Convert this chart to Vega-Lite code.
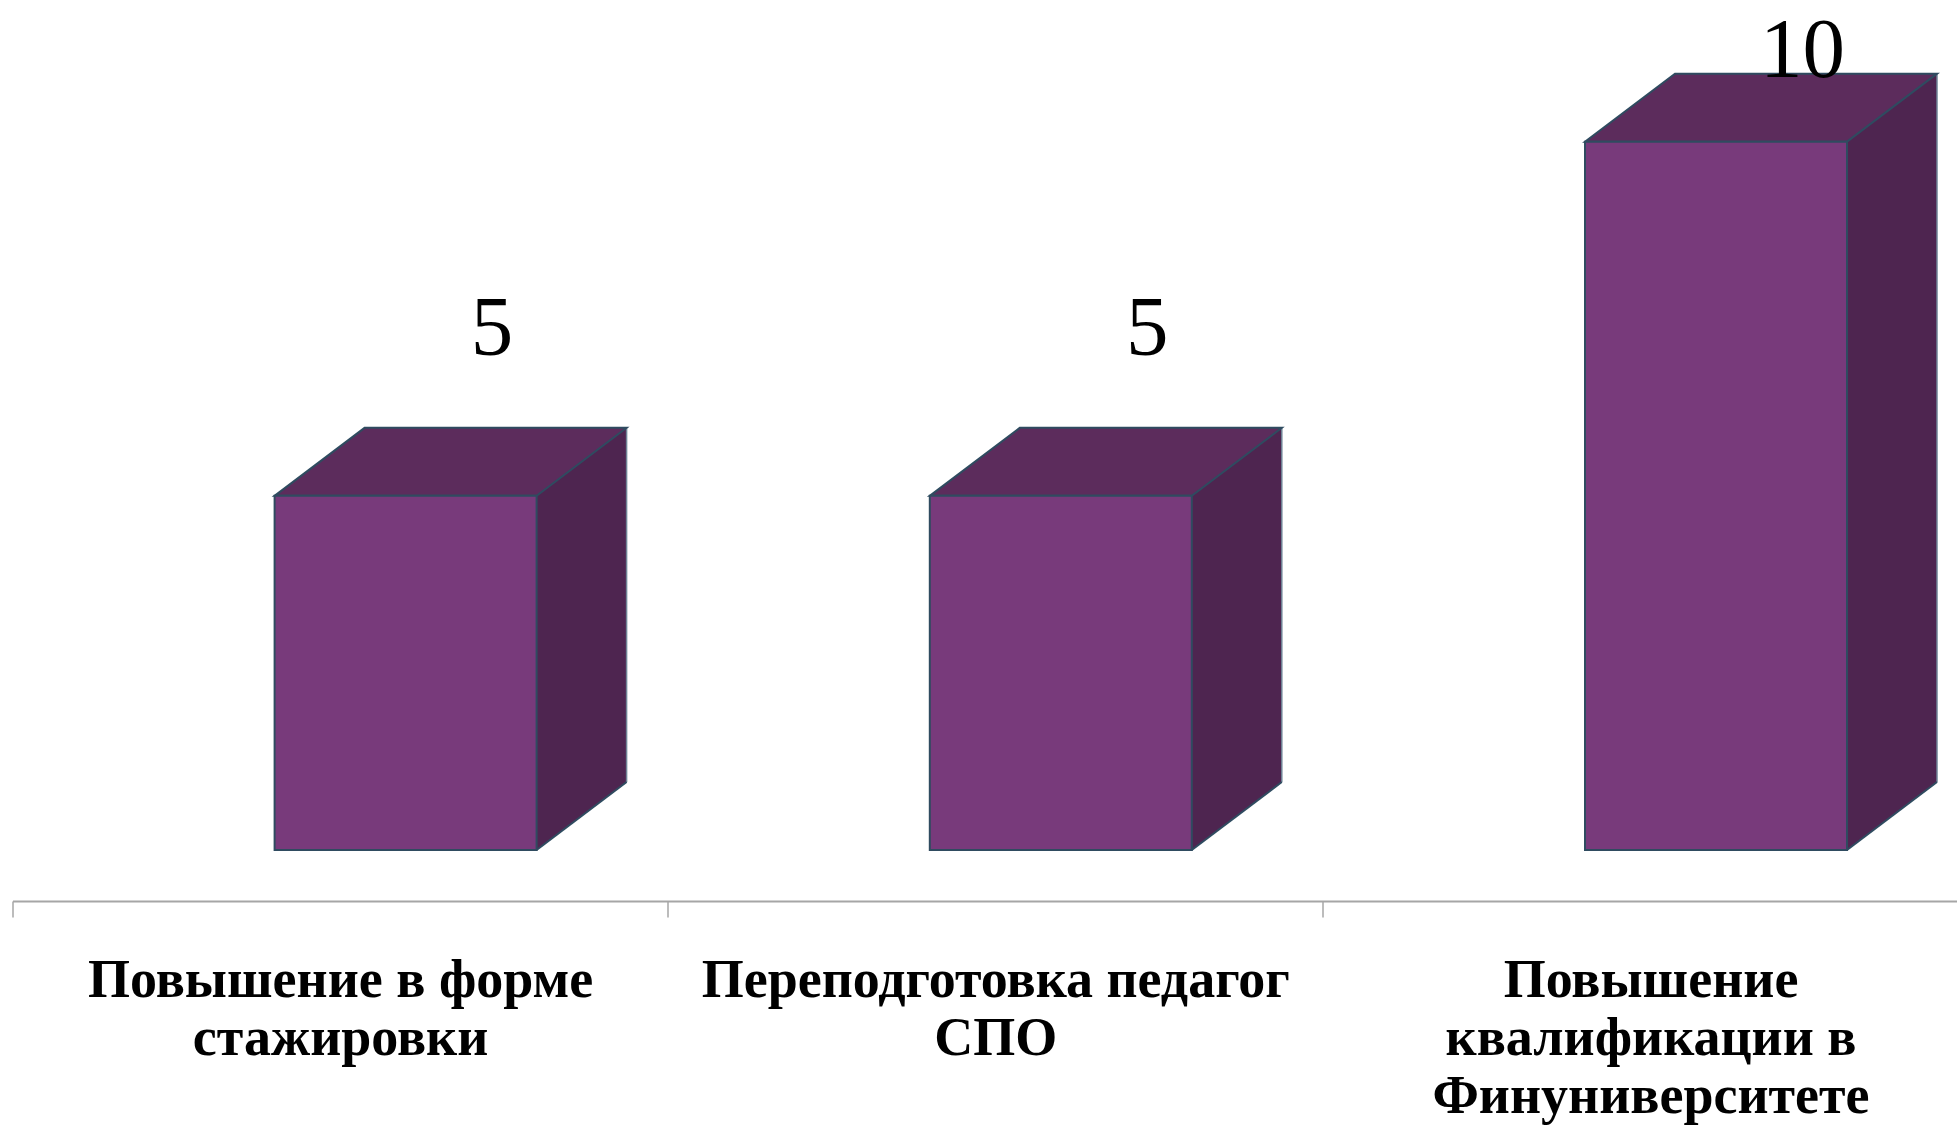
{
  "$schema": "https://vega.github.io/schema/vega-lite/v6.json",
  "width": 1944.5,
  "height": 901,
  "autosize": {"type": "none"},
  "padding": {"left": 12.5, "top": 0, "right": 0, "bottom": 229},
  "background": "white",
  "config": {"view": {"stroke": null}},
  "data": {
    "values": [
      {"category": "Повышение в форме\nстажировки", "value": 5},
      {"category": "Переподготовка педагог\nСПО", "value": 5},
      {"category": "Повышение\nквалификации в\nФинуниверситете", "value": 10}
    ]
  },
  "encoding": {
    "x": {
      "field": "category",
      "type": "nominal",
      "sort": null,
      "title": null,
      "scale": {"range": [0, 1965.6], "paddingInner": 0, "paddingOuter": 0},
      "axis": {
        "labelExpr": "split(datum.label, '\\n')",
        "labelAngle": 0,
        "labelFont": "Liberation Serif",
        "labelFontWeight": "bold",
        "labelFontSize": 54,
        "labelColor": "#000000",
        "labelLineHeight": 58,
        "labelBaseline": "alphabetic",
        "labelPadding": 79,
        "labelLimit": 0,
        "labelOverlap": false,
        "labelBound": false,
        "labelFlush": false,
        "domainColor": "#a6a6a6",
        "domainWidth": 2,
        "tickColor": "#a6a6a6",
        "tickWidth": 1.5,
        "tickSize": 16,
        "tickBand": "extent",
        "grid": false
      }
    }
  },
  "layer": [
    {
      "encoding": {
        "y": {"field": "value", "type": "quantitative", "scale": {"domain": [-0.72, 12], "zero": false, "nice": false}, "axis": null}
      },
      "layer": [
        {
          "mark": {"type": "bar", "width": 90, "xOffset": 241.5, "yOffset": -68, "y2Offset": -68, "fill": "#4e2550", "strokeWidth": 0},
          "encoding": {"y2": {"datum": 0}}
        },
        {
          "mark": {"type": "point", "shape": "M 196.5 0 L 196.5 -68 L 287 -68 Z", "size": 4, "filled": true, "fill": "#4e2550", "opacity": 1, "strokeWidth": 0},
          "encoding": {"y": {"datum": 0, "type": "quantitative"}}
        },
        {
          "mark": {"type": "rule", "xOffset": 286.5, "yOffset": -68, "y2Offset": -68, "stroke": "#6f8396", "strokeWidth": 1.5},
          "encoding": {"y2": {"datum": 0}}
        },
        {
          "mark": {"type": "point", "shape": "M 196.5 0 L 286.5 -68", "size": 4, "filled": false, "fill": null, "stroke": "#2f4b60", "strokeWidth": 2, "opacity": 1},
          "encoding": {"y": {"datum": 0, "type": "quantitative"}}
        },
        {
          "mark": {"type": "point", "shape": "M -65.5 0 L 196.5 0 L 286.5 -68 L 24.5 -68 Z", "size": 4, "filled": true, "fill": "#5c2c5c", "stroke": "#2f4b60", "strokeWidth": 2, "opacity": 1}
        },
        {
          "mark": {"type": "bar", "width": 262, "xOffset": 65.5, "fill": "#783a7b", "stroke": "#2f4b60", "strokeWidth": 2},
          "encoding": {"y2": {"datum": 0}}
        }
      ]
    },
    {
      "mark": {"type": "text", "dx": 152, "align": "center", "baseline": "alphabetic", "font": "Liberation Serif", "fontSize": 85, "color": "#000000"},
      "encoding": {
        "y": {"field": "value", "type": "quantitative", "scale": {"domain": [-4.82, 11.385], "zero": false, "nice": false}, "axis": null},
        "text": {"field": "value", "type": "quantitative"}
      }
    }
  ],
  "resolve": {"scale": {"y": "independent"}}
}
